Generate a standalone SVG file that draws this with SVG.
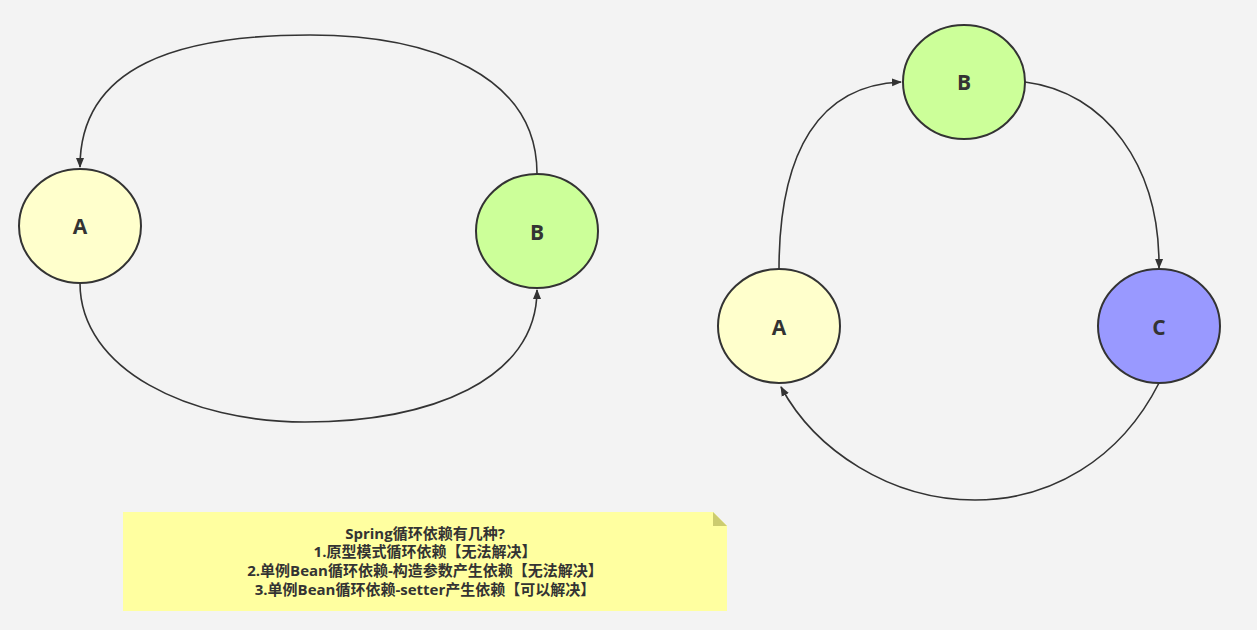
<svg xmlns="http://www.w3.org/2000/svg" width="1257" height="630" viewBox="0 0 1257 630">
<defs>
<marker id="arr" markerWidth="10" markerHeight="10" refX="9" refY="5" orient="auto" markerUnits="userSpaceOnUse">
<path d="M0,1 L10,5 L0,9 Z" fill="#333"/>
</marker>
<style>
.node ellipse{stroke:#333;stroke-width:2}
.lbl{font-family:"Open Sans","Noto Sans","Liberation Sans",sans-serif;font-weight:bold;font-size:21px;fill:#333;text-anchor:middle;dominant-baseline:central}
.conn path{fill:none;stroke:#333;stroke-width:1.6;marker-end:url(#arr)}
.note text{font-family:"Open Sans","Noto Sans CJK SC",sans-serif;font-weight:bold;font-size:15px;fill:#333;text-anchor:middle}
</style>
</defs>
<rect width="1257" height="630" fill="#f3f3f3"/>
<g id="connectors" class="conn">
<path d="M537,175 C538,75 430,35 310,35 C180,35 80,65 80,167"/>
<path d="M80,283 C80,370 190,422 305,422 C430,422 537,380 537,290"/>
<path d="M779,270 C779,150 820,85 901,82"/>
<path d="M1025,82 C1105,92 1160,165 1159,268"/>
<path d="M1159,383 C1120,460 1050,500 975,500 C890,500 815,450 781,387"/>
</g>
<g id="nodeA1" class="node"><ellipse cx="80" cy="226" rx="61" ry="57" fill="#ffffcc"/><text class="lbl" x="80" y="226">A</text></g>
<g id="nodeB1" class="node"><ellipse cx="537" cy="231" rx="61" ry="57" fill="#ccff99"/><text class="lbl" x="537" y="232">B</text></g>
<g id="nodeB2" class="node"><ellipse cx="964" cy="82" rx="61" ry="57" fill="#ccff99"/><text class="lbl" x="964" y="82">B</text></g>
<g id="nodeA2" class="node"><ellipse cx="779" cy="326" rx="61" ry="57" fill="#ffffcc"/><text class="lbl" x="779" y="327">A</text></g>
<g id="nodeC" class="node"><ellipse cx="1159" cy="326" rx="61" ry="57" fill="#9999ff"/><text class="lbl" x="1159" y="327">C</text></g>
<g id="note" class="note">
<path d="M123,512 H713 L727,526 V611 H123 Z" fill="#ffffa0"/>
<path d="M713,512 L727,526 H713 Z" fill="#cccc70"/>
<text x="425" y="539">Spring循环依赖有几种?</text>
<text x="425" y="557">1.原型模式循环依赖【无法解决】</text>
<text x="425" y="576">2.单例Bean循环依赖-构造参数产生依赖【无法解决】</text>
<text x="425" y="595">3.单例Bean循环依赖-setter产生依赖【可以解决】</text>
</g>
</svg>
